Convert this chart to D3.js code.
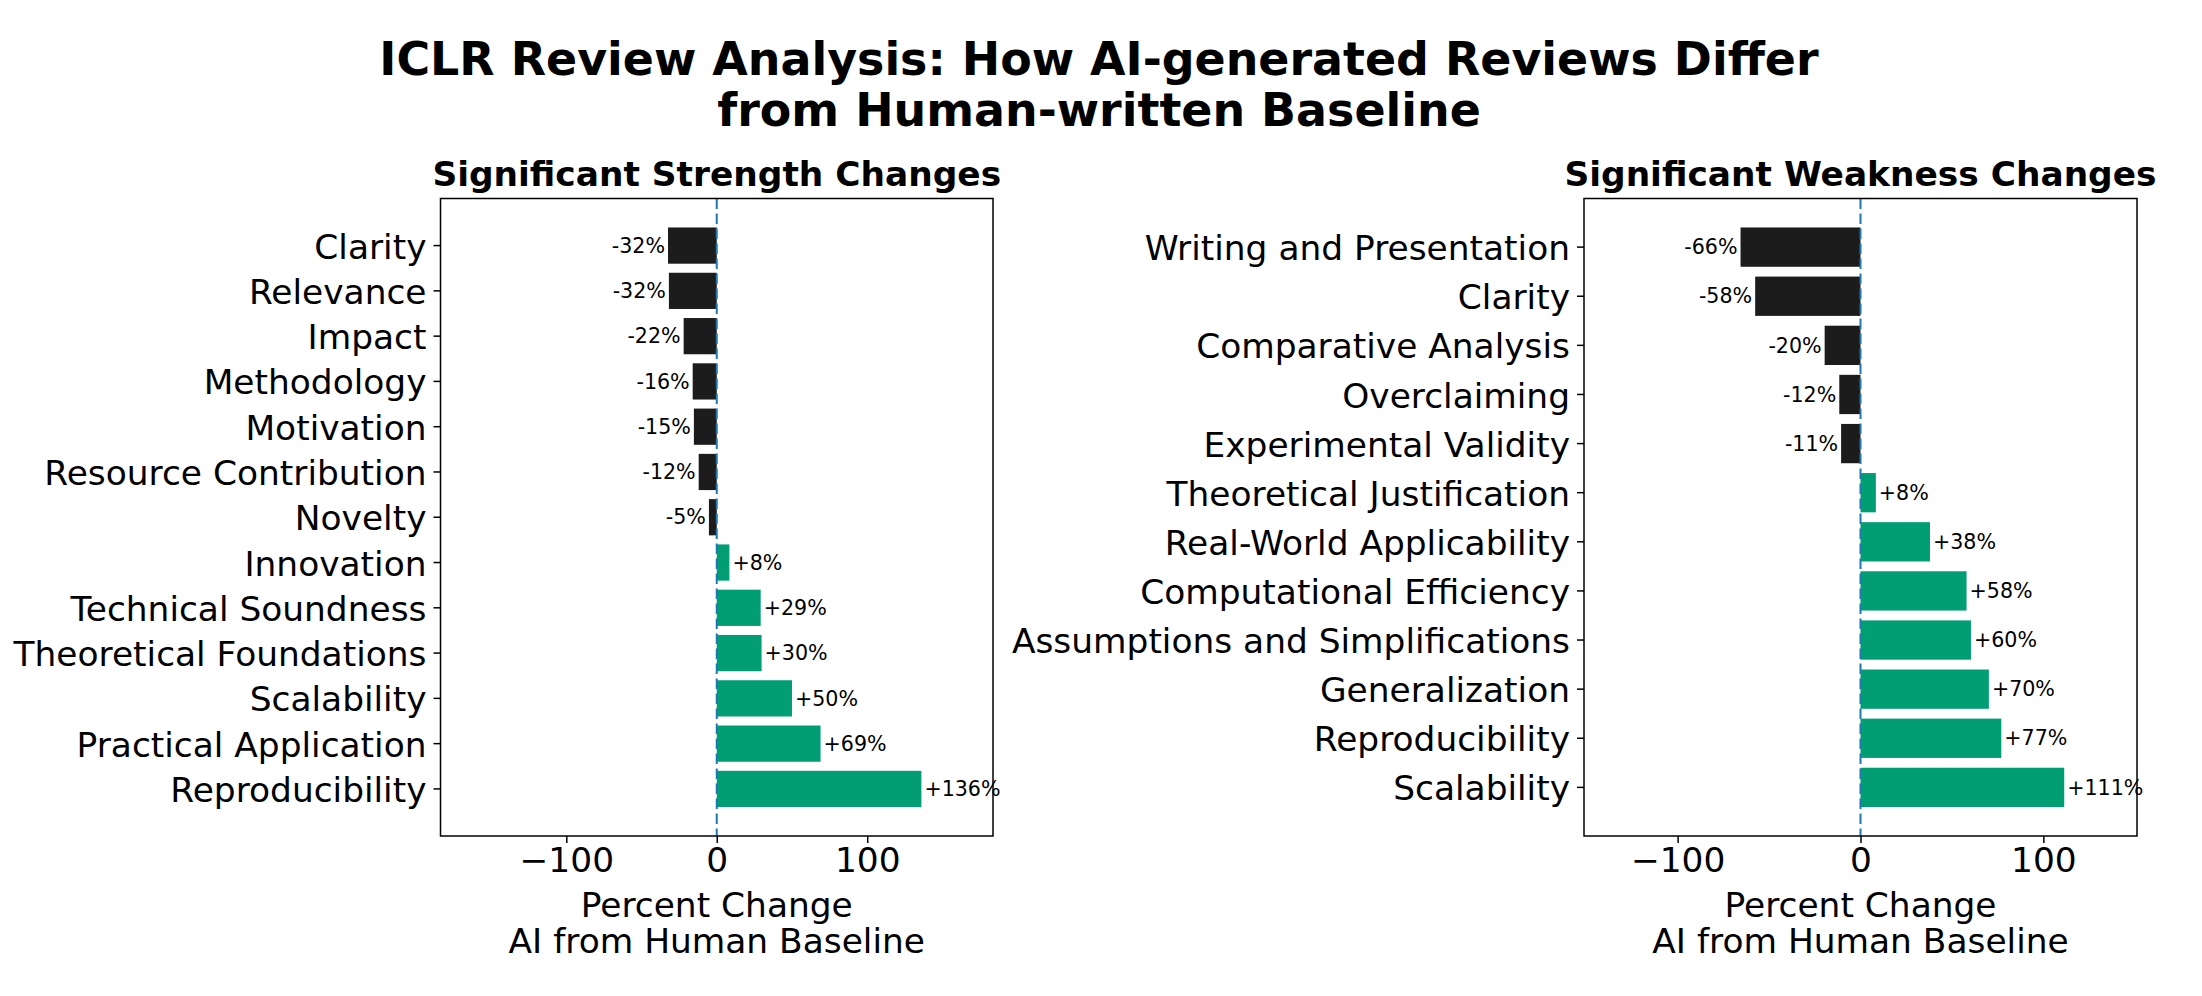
<!DOCTYPE html>
<html>
<head>
<meta charset="utf-8">
<script src="https://cdn.jsdelivr.net/npm/d3@7"></script>
<style>
  html, body { margin: 0; padding: 0; background: #fff; }
  svg { display: block; }
  text { font-family: "DejaVu Sans", sans-serif; fill: #000; }
</style>
</head>
<body>
<svg id="chart" width="2202" height="996"></svg>
<script>
// ---- Data ----
const strengthCategories = ["Clarity", "Relevance", "Impact", "Methodology", "Motivation",
  "Resource Contribution", "Novelty", "Innovation", "Technical Soundness",
  "Theoretical Foundations", "Scalability", "Practical Application", "Reproducibility"];
const strengthValues = [-32.4, -31.8, -22, -16, -15.2, -12, -5.2, 8.4, 29.2, 29.8, 50, 69, 136];

const weaknessCategories = ["Writing and Presentation", "Clarity", "Comparative Analysis",
  "Overclaiming", "Experimental Validity", "Theoretical Justification",
  "Real-World Applicability", "Computational Efficiency", "Assumptions and Simplifications",
  "Generalization", "Reproducibility", "Scalability"];
const weaknessValues = [-65.6, -57.6, -19.6, -11.6, -10.6, 8.4, 38, 58, 60.4, 70.2, 77, 111.4];

const xTickValues = [-100, 0, 100];

const titleLines = ["ICLR Review Analysis: How AI-generated Reviews Differ", "from Human-written Baseline"];
const panelTitles = ["Significant Strength Changes", "Significant Weakness Changes"];
const xLabelLines = ["Percent Change", "AI from Human Baseline"];

// ---- Layout / style ----
const svg = d3.select("#chart");
const COLORS = { neg: "#1c1c1c", pos: "#029e73", zero: "#1f77b4" };
const TOP = 198.5, BOTTOM = 836;
const FS = 34.4, FS_TITLE = 45.9, FS_VAL = 20.6;

svg.append("g").selectAll("text").data(titleLines).join("text")
  .attr("x", 1099).attr("y", (d, i) => 75 + i * 51)
  .attr("text-anchor", "middle")
  .style("font-size", FS_TITLE + "px").style("font-weight", "bold")
  .text(d => d);

function panel(cats, vals, x0, x1, title) {
  const g = svg.append("g");
  const maxAbs = d3.max(vals, v => Math.abs(v));
  const lim = Math.ceil(maxAbs) * 1.35;
  const x = d3.scaleLinear().domain([-lim, lim]).range([x0, x1]);
  const n = cats.length;
  const y = d3.scaleBand().domain(cats).range([TOP, BOTTOM])
    .paddingInner(0.2).paddingOuter(0.05 * n - 0.01).align(0.5);

  // bars
  g.append("g").selectAll("rect").data(vals).join("rect")
    .attr("x", v => x(Math.min(0, v)))
    .attr("width", v => Math.abs(x(v) - x(0)))
    .attr("y", (v, i) => y(cats[i]))
    .attr("height", y.bandwidth())
    .attr("fill", v => v < 0 ? COLORS.neg : COLORS.pos);

  // value labels
  g.append("g").selectAll("text").data(vals).join("text")
    .attr("x", v => v < 0 ? x(v) - 3 : x(v) + 3)
    .attr("y", (v, i) => y(cats[i]) + y.bandwidth() / 2)
    .attr("dy", "0.35em")
    .attr("text-anchor", v => v < 0 ? "end" : "start")
    .style("font-size", FS_VAL + "px")
    .text(v => (v > 0 ? "+" : "") + Math.round(v) + "%");

  // zero line
  g.append("line")
    .attr("x1", x(0)).attr("x2", x(0)).attr("y1", TOP).attr("y2", BOTTOM)
    .attr("stroke", COLORS.zero).attr("stroke-width", 2)
    .attr("stroke-dasharray", "10.5 4.5");

  // frame
  g.append("rect")
    .attr("x", x0).attr("y", TOP).attr("width", x1 - x0).attr("height", BOTTOM - TOP)
    .attr("fill", "none").attr("stroke", "#000").attr("stroke-width", 1.5);

  // x axis
  const xa = g.append("g").attr("transform", `translate(0,${BOTTOM})`)
    .call(d3.axisBottom(x).tickValues(xTickValues).tickSize(7).tickPadding(5)
      .tickFormat(d => d < 0 ? "\u2212" + Math.abs(d) : String(d)));
  xa.select(".domain").remove();
  xa.selectAll(".tick line").attr("stroke", "#000").attr("stroke-width", 1.5);
  xa.selectAll(".tick text").style("font-size", FS + "px")
    .style("font-family", "DejaVu Sans, sans-serif").attr("fill", "#000");

  // y axis
  const ya = g.append("g").attr("transform", `translate(${x0},0)`)
    .call(d3.axisLeft(y).tickSize(7).tickPadding(7));
  ya.select(".domain").remove();
  ya.selectAll(".tick line").attr("stroke", "#000").attr("stroke-width", 1.5);
  ya.selectAll(".tick text").style("font-size", FS + "px")
    .style("font-family", "DejaVu Sans, sans-serif").attr("fill", "#000")
    .attr("dy", "0.38em");

  // panel title
  g.append("text").attr("x", (x0 + x1) / 2).attr("y", 185.7)
    .attr("text-anchor", "middle")
    .style("font-size", FS + "px").style("font-weight", "bold")
    .text(title);

  // x label
  g.append("g").selectAll("text").data(xLabelLines).join("text")
    .attr("x", x(0)).attr("y", (d, i) => 916.7 + i * 36.7)
    .attr("text-anchor", "middle")
    .style("font-size", FS + "px")
    .text(d => d);
}

panel(strengthCategories, strengthValues, 440.5, 993, panelTitles[0]);
panel(weaknessCategories, weaknessValues, 1584, 2137, panelTitles[1]);
</script>
</body>
</html>
